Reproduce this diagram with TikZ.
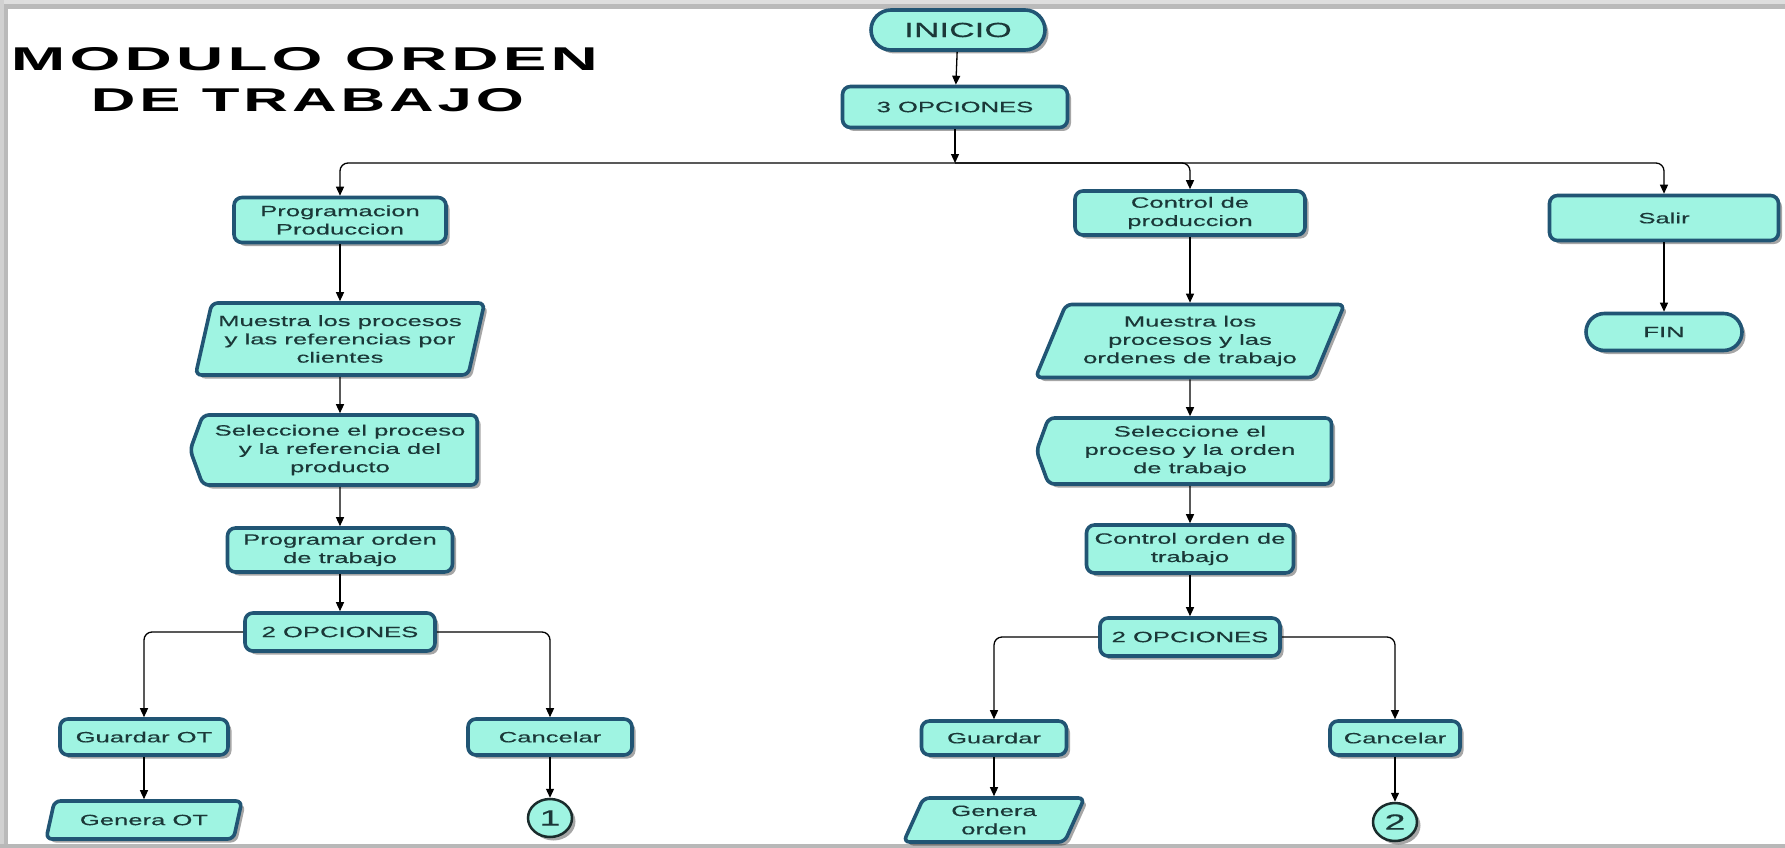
\documentclass[tikz,border=0pt]{standalone}
\usepackage{fontspec}
\usepackage{graphicx}
\usetikzlibrary{shapes.geometric,shapes.misc,shapes.symbols,arrows.meta,shadows}

\newfontfamily\boxfam{Liberation Sans}[FakeStretch=1.72,FakeBold=0.4]
\newfontfamily\titlefam{Liberation Sans}[FakeStretch=2.2,LetterSpace=14]

\definecolor{boxfill}{HTML}{9FF4E2}
\definecolor{boxline}{HTML}{215574}
\definecolor{boxtext}{HTML}{1B3838}
\definecolor{ringline}{HTML}{1A2C2C}

\tikzset{
  shapebase/.style={draw=boxline, line width=3.6pt, fill=boxfill, text=boxtext,
    align=center, inner sep=2pt,
    font=\boxfam\fontsize{14.9pt}{18.3pt}\selectfont,
    drop shadow={shadow xshift=3.5pt, shadow yshift=-3.5pt, fill=black, opacity=0.35}},
  proc/.style={shapebase, rectangle, rounded corners=8pt},
  term/.style={shapebase, rounded rectangle},
  iobox/.style={shapebase, trapezium, trapezium stretches=true, rounded corners=6pt},
  selbox/.style={shapebase, signal, signal to=west, signal from=nowhere,
    signal pointer angle=140, rounded corners=6pt},
  ring/.style={shapebase, ellipse, draw=ringline, line width=2.5pt,
    minimum width=44pt, minimum height=38pt, inner sep=0pt,
    font=\boxfam\fontsize{22pt}{24pt}\selectfont},
  conn/.style={line width=1.3pt, draw=black, rounded corners=8pt,
    -{Triangle[length=9pt,width=8pt]}},
}

\begin{document}
\begin{tikzpicture}[x=1pt, y=-1pt]
  \useasboundingbox (0,0) rectangle (1785,848);
  \fill[white] (0,0) rectangle (1785,848);

  % page frame
  \fill[black!13] (0,0) rectangle (1785,4);
  \fill[black!27] (0,4) rectangle (1785,9);
  \fill[black!18] (0,0) rectangle (4,848);
  \fill[black!27] (4,9) rectangle (8,848);
  \fill[black!28] (0,844) rectangle (1785,848);

  % title
  \node[anchor=base, inner sep=0pt] (title1) at (304.5,71)
    {\resizebox{587pt}{23pt}{\titlefam\bfseries MODULO ORDEN}};
  \node[anchor=base, inner sep=0pt] (title2) at (307.5,112)
    {\resizebox{433pt}{23pt}{\titlefam\bfseries DE TRABAJO}};

  % top
  \node[term, minimum width=178pt, minimum height=40pt,
        font=\boxfam\fontsize{20.5pt}{22pt}\selectfont] (inicio) at (958,30) {INICIO};
  \node[proc, minimum width=225pt, minimum height=41pt] (opc3) at (955,107) {3 OPCIONES};
  \coordinate (bus) at (955,163);

  % left column
  \node[proc, minimum width=212pt, minimum height=45pt] (prog) at (340,220)
    {Programacion\\Produccion};
  \node[iobox, trapezium left angle=73, trapezium right angle=107,
        minimum width=290pt, minimum height=72pt] (mues1) at (340,339)
    {Muestra los procesos\\y las referencias por\\clientes};
  \node[selbox, minimum width=287pt, minimum height=70pt] (sel1) at (340,450)
    {Seleccione el proceso\\y la referencia del\\producto};
  \node[proc, minimum width=225pt, minimum height=44pt] (progot) at (340,550)
    {Programar orden\\de trabajo};
  \node[proc, minimum width=190pt, minimum height=38pt] (opc2a) at (340,632) {2 OPCIONES};
  \node[proc, minimum width=168pt, minimum height=36pt] (guar1) at (144,737) {Guardar OT};
  \node[iobox, trapezium left angle=67, trapezium right angle=113,
        minimum width=196pt, minimum height=38pt] (genot) at (144,820) {Genera OT};
  \node[proc, minimum width=164pt, minimum height=36pt] (canc1) at (550,737) {Cancelar};
  \node[ring] (ring1) at (550,818) {1};

  % middle column
  \node[proc, minimum width=230pt, minimum height=44pt] (ctrl) at (1190,213)
    {Control de\\produccion};
  \node[iobox, trapezium left angle=64, trapezium right angle=116,
        minimum width=310pt, minimum height=73pt] (mues2) at (1190,341)
    {Muestra los\\procesos y las\\ordenes de trabajo};
  \node[selbox, minimum width=295pt, minimum height=66pt] (sel2) at (1190,451)
    {Seleccione el\\proceso y la orden\\de trabajo};
  \node[proc, minimum width=207pt, minimum height=48pt] (ctrlot) at (1190,549)
    {Control orden de\\trabajo};
  \node[proc, minimum width=180pt, minimum height=38pt] (opc2b) at (1190,637) {2 OPCIONES};
  \node[proc, minimum width=145pt, minimum height=34pt] (guar2) at (994,738) {Guardar};
  \node[iobox, trapezium left angle=69, trapezium right angle=111,
        minimum width=181pt, minimum height=44pt] (genord) at (994,820) {Genera\\orden};
  \node[proc, minimum width=130pt, minimum height=34pt] (canc2) at (1395,738) {Cancelar};
  \node[ring] (ring2) at (1395,822) {2};

  % right column
  \node[proc, minimum width=229pt, minimum height=45pt] (salir) at (1664,218) {Salir};
  \node[term, minimum width=160pt, minimum height=37pt] (fin) at (1664,332) {FIN};

  % connectors
  \draw[conn] (inicio) -- (opc3);
  \draw[conn] (opc3) -- (bus);
  \draw[conn] (bus) -| (prog);
  \draw[conn] (bus) -| (ctrl);
  \draw[conn] (bus) -| (salir);

  \draw[conn] (prog) -- (mues1);
  \draw[conn] (mues1) -- (sel1);
  \draw[conn] (sel1) -- (progot);
  \draw[conn] (progot) -- (opc2a);
  \draw[conn] (opc2a.west) -| (guar1);
  \draw[conn] (opc2a.east) -| (canc1);
  \draw[conn] (guar1) -- (genot);
  \draw[conn] (canc1) -- (ring1);

  \draw[conn] (ctrl) -- (mues2);
  \draw[conn] (mues2) -- (sel2);
  \draw[conn] (sel2) -- (ctrlot);
  \draw[conn] (ctrlot) -- (opc2b);
  \draw[conn] (opc2b.west) -| (guar2);
  \draw[conn] (opc2b.east) -| (canc2);
  \draw[conn] (guar2) -- (genord);
  \draw[conn] (canc2) -- (ring2);

  \draw[conn] (salir) -- (fin);
\end{tikzpicture}
\end{document}
